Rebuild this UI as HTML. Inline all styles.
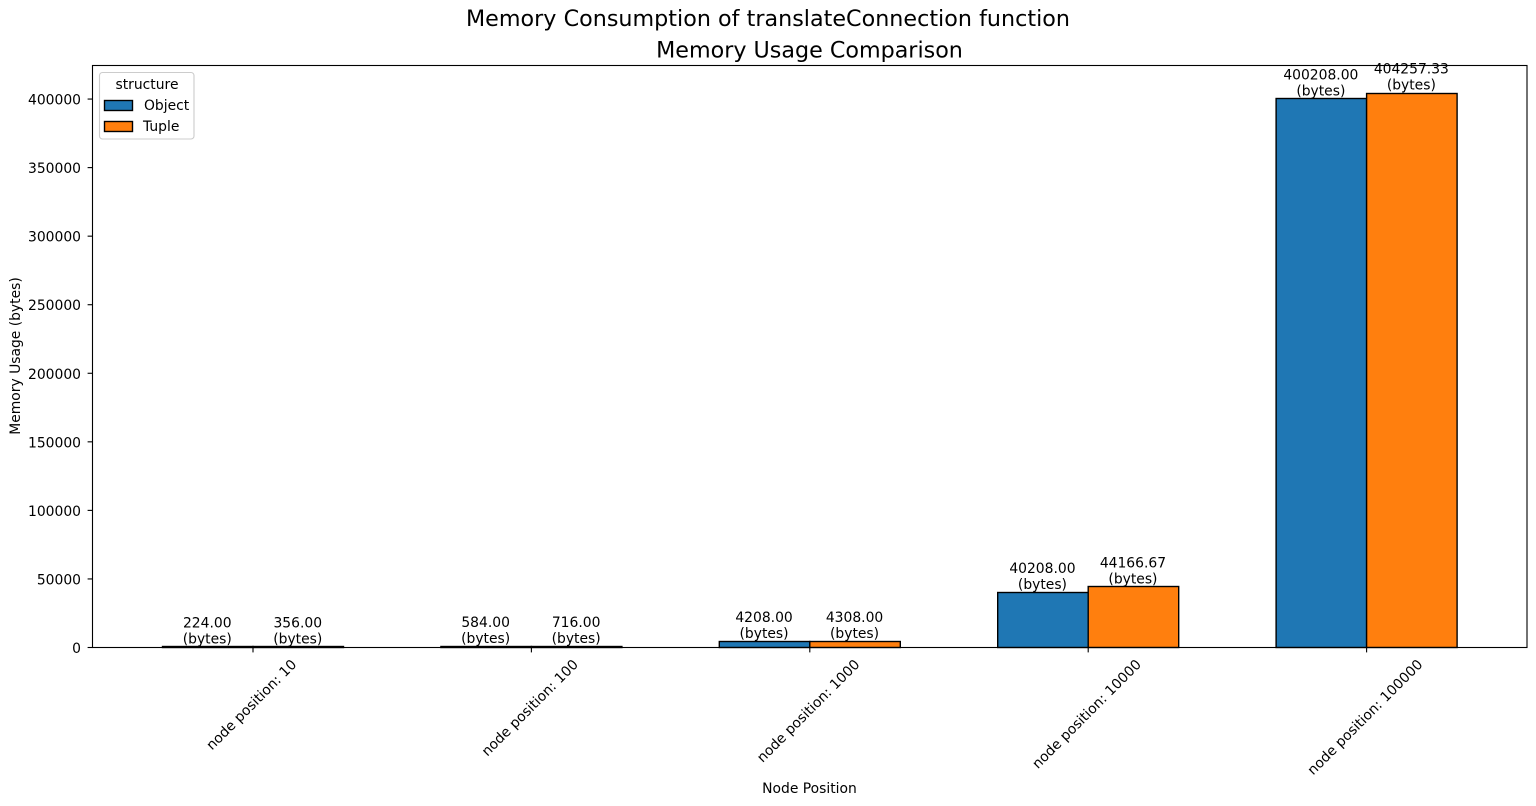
<!DOCTYPE html>
<html lang="en">
<head>
<meta charset="utf-8">
<title>Memory Consumption of translateConnection function</title>
<style>
html,body{margin:0;padding:0;background:#fff;width:1536px;height:806px;overflow:hidden}
svg{display:block}
text{font-family:"DejaVu Sans","Liberation Sans",sans-serif;fill:#000;font-size:13.89px}
</style>
</head>
<body>
<svg id="chart" xmlns="http://www.w3.org/2000/svg" width="1536" height="806" viewBox="0 0 1536 806">
<text x="768" y="26" text-anchor="middle" textLength="604" lengthAdjust="spacing" style="font-size:22.22px">Memory Consumption of translateConnection function</text>
<text x="809.5" y="57.5" text-anchor="middle" style="font-size:22.22px">Memory Usage Comparison</text>
<g id="bars"></g>
<g id="value-labels"></g>
<g id="y-ticks"></g>
<g id="x-ticks"></g>
<rect x="92.5" y="65.5" width="1434.5" height="582" fill="none" stroke="#000" stroke-width="1.11"/>
<text transform="translate(20,356) rotate(-90)" text-anchor="middle">Memory Usage (bytes)</text>
<text x="809.5" y="793" text-anchor="middle">Node Position</text>
<g>
<rect x="99.5" y="72.5" width="94.5" height="66.5" rx="3" fill="#fff" fill-opacity="0.8" stroke="#ccc" stroke-width="1.11"/>
<text x="147" y="89" text-anchor="middle">structure</text>
<rect x="104.5" y="100.5" width="28" height="10" fill="#1f77b4" stroke="#000" stroke-width="1.39"/>
<text x="144" y="110">Object</text>
<rect x="104.5" y="121.5" width="28" height="10" fill="#ff7f0e" stroke="#000" stroke-width="1.39"/>
<text x="143" y="131">Tuple</text>
</g>
</svg>
<script>
var categories = ["node position: 10", "node position: 100", "node position: 1000", "node position: 10000", "node position: 100000"];
var objectValues = [224, 584, 4208, 40208, 400208];
var tupleValues = [356, 716, 4308, 44166.67, 404257.33];
var yTickValues = [0, 50000, 100000, 150000, 200000, 250000, 300000, 350000, 400000];

var NS = "http://www.w3.org/2000/svg";
var yMaxValue = 424470;
function yScale(v) { return 647.5 - v * 582 / yMaxValue; }
function xScale(i) { return 253 + 278.4 * i; }
var BAR_W = 90.5;

function make(tag, attrs, parent, text) {
  var el = document.createElementNS(NS, tag);
  for (var k in attrs) { el.setAttribute(k, attrs[k]); }
  if (text !== undefined) { el.textContent = text; }
  parent.appendChild(el);
  return el;
}

var barsG = document.getElementById("bars");
var labelsG = document.getElementById("value-labels");
var yG = document.getElementById("y-ticks");
var xG = document.getElementById("x-ticks");

function drawSeries(values, offset, color, seriesName) {
  values.forEach(function (v, i) {
    var x = xScale(i) + offset * BAR_W;
    var top = yScale(v);
    var snapped = Math.min(Math.floor(top) + 0.5, 646.5);
    var bar = make("rect", { x: x, y: snapped, width: BAR_W, height: 647.5 - snapped, fill: color, stroke: "#000", "stroke-width": 1.39 }, barsG);
    
    
    var cx = x + BAR_W / 2 - 0.5;
    var a = make("text", { x: cx, y: top - 19.5, "text-anchor": "middle" }, labelsG, v.toFixed(2));
    
    
    var b = make("text", { x: cx, y: top - 3.5, "text-anchor": "middle" }, labelsG, "(bytes)");
    
    
  });
}
drawSeries(objectValues, -1, "#1f77b4", "object");
drawSeries(tupleValues, 0, "#ff7f0e", "tuple");

yTickValues.forEach(function (v) {
  var y = yScale(v);
  var tick = make("line", { x1: 87.6, x2: 92.5, y1: y, y2: y, stroke: "#000", "stroke-width": 1.11 }, yG);
  
  
  var label = make("text", { x: 81, y: y + 5.5, "text-anchor": "end" }, yG, String(v));
  
  
});

categories.forEach(function (c, i) {
  var x = xScale(i);
  var tick = make("line", { x1: x, x2: x, y1: 647.5, y2: 652.4, stroke: "#000", "stroke-width": 1.11 }, xG);
  
  
  var label = make("text", { x: 0, y: 0, "text-anchor": "middle" }, xG, c);
  
  
  var w = label.getComputedTextLength();
  var half = (w + 14) * Math.SQRT1_2 / 2;
  label.setAttribute("transform", "translate(" + (x - 1.8) + "," + (656.8 + half) + ") rotate(-45) translate(0,5)");
});
</script>
</body>
</html>
